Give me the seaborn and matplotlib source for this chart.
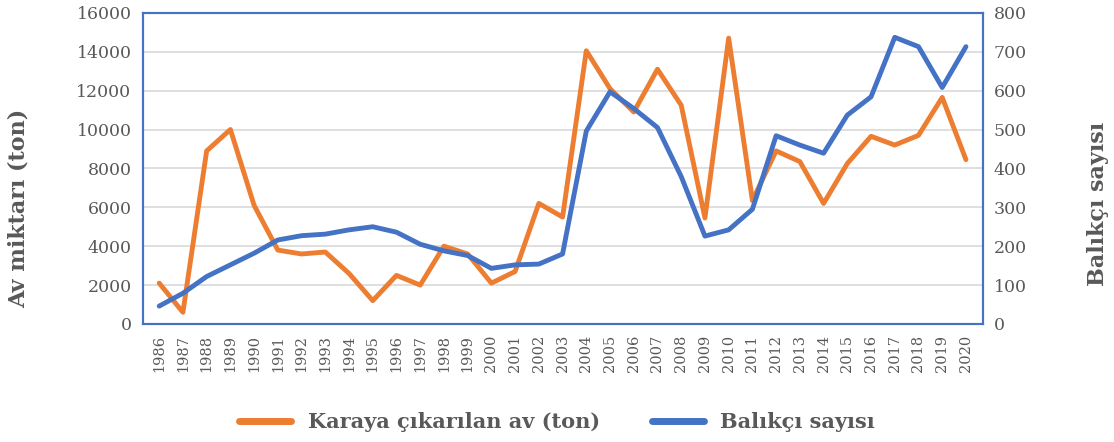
import pandas as pd
import numpy as np
import matplotlib
matplotlib.use("Agg")
import matplotlib.pyplot as plt
import seaborn as sns

years = list(range(1986, 2021))
av_ton = [2100, 600, 8900, 10000, 6100, 3800, 3600, 3700, 2600, 1200,
          2500, 2000, 4000, 3600, 2100, 2700, 6200, 5500, 14050, 12100,
          10900, 13100, 11250, 5450, 14700, 6350, 8900, 8350, 6200, 8250,
          9650, 9200, 9700, 11650, 8450]
balikci = [46, 79, 122, 152, 182, 216, 227, 231, 242, 250,
           236, 205, 188, 176, 143, 152, 154, 180, 496, 597,
           554, 505, 379, 226, 242, 295, 484, 460, 439, 537,
           584, 737, 713, 608, 713]

df = pd.DataFrame({"yil": years, "av": av_ton, "balikci": balikci})

sns.set_style("white")
plt.rcParams['font.family'] = ['DejaVu Serif']

orange = "#ED7D31"
blue = "#4472C4"
grey = "#595959"

fig = plt.figure(figsize=(11.14, 4.42), dpi=100)
ax = fig.add_axes([0.128, 0.267, 0.754, 0.704])
ax2 = ax.twinx()

sns.lineplot(data=df, x="yil", y="av", ax=ax, color=orange, linewidth=3.5,
             label="Karaya çıkarılan av (ton)", legend=False)
sns.lineplot(data=df, x="yil", y="balikci", ax=ax2, color=blue, linewidth=3.5,
             label="Balıkçı sayısı", legend=False)

ax.set_ylim(0, 16000)
ax2.set_ylim(0, 800)
ax.set_xlim(1985.3, 2020.7)
ax.set_yticks(range(0, 16001, 2000))
ax2.set_yticks(range(0, 801, 100))
ax.set_xticks(years)
ax.set_xticklabels([str(y) for y in years], rotation=90, fontsize=10.5, color=grey)
ax.grid(axis="y", color="#dcdcdc", linewidth=1.3)
ax.set_axisbelow(True)

for a in (ax, ax2):
    a.tick_params(axis="y", length=0, labelsize=12.5, labelcolor=grey, pad=8)
    for s in a.spines.values():
        s.set_color(blue)
        s.set_linewidth(1.5)
ax.tick_params(axis="x", length=0, pad=8)

ax.set_xlabel("")
ax.set_ylabel("Av miktarı (ton)", fontsize=16, fontweight="bold", color=grey)
ax2.set_ylabel("Balıkçı sayısı", fontsize=16, fontweight="bold", color=grey)
ax.yaxis.set_label_coords(-0.135, 0.37)
ax2.yaxis.set_label_coords(1.124, 0.385)

h1, l1 = ax.get_legend_handles_labels()
h2, l2 = ax2.get_legend_handles_labels()
leg = fig.legend(h1 + h2, l1 + l2, loc="center", bbox_to_anchor=(0.5, 0.045), ncol=2,
                 frameon=False, prop={"size": 15, "weight": "bold"}, labelcolor=grey,
                 handlelength=2.5, columnspacing=2.5)
for line in leg.get_lines():
    line.set_linewidth(5)

fig.savefig("out.png", dpi=100)
